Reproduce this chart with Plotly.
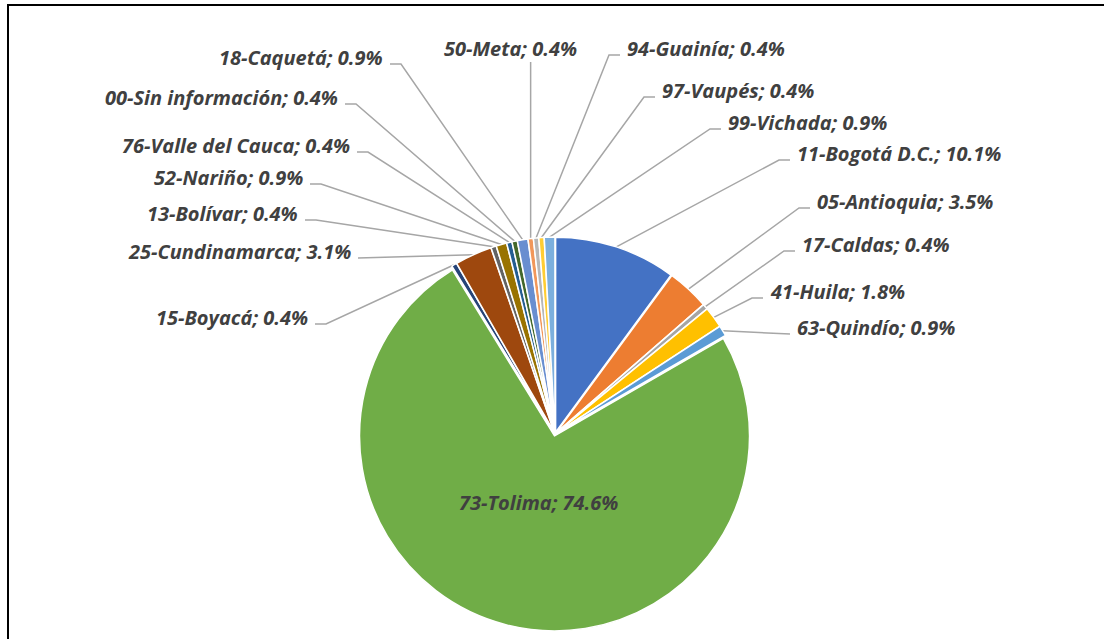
import math
import plotly.graph_objects as go

# ---------------- data ----------------
names = ["11-Bogotá D.C.", "05-Antioquia", "17-Caldas", "41-Huila", "63-Quindío",
         "73-Tolima", "15-Boyacá", "25-Cundinamarca", "13-Bolívar", "52-Nariño",
         "76-Valle del Cauca", "00-Sin información", "18-Caquetá", "50-Meta",
         "94-Guainía", "97-Vaupés", "99-Vichada"]
counts = [23, 8, 1, 4, 2, 170, 1, 7, 1, 2, 1, 1, 2, 1, 1, 1, 2]
colors = ["#4472C4", "#ED7D31", "#A5A5A5", "#FFC000", "#5B9BD5", "#70AD47",
          "#264478", "#9E480E", "#636363", "#997300", "#255E91", "#43682B",
          "#698ED0", "#F1975A", "#B7B7B7", "#FFCD33", "#7CAFDD"]

# ---------------- layout (pixels) ----------------
W, H = 1104, 639
CX, CY, R = 555, 434, 195          # pie centre and radius
PULL = 0.01
# label anchor x, centre y, side ('r' = text to right of anchor, 'l' = text to left, 'c' = centred, 'in' = inside)
label_x = [795, 815, 800, 768, 795, 538, 310, 353, 300, 305, 352, 340, 385, 510, 625, 660, 726]
label_y = [153, 201, 244, 291, 327, 502, 317, 251, 213, 177, 145, 97, 57, 48, 48, 90, 122]
label_side = ["r", "r", "r", "r", "r", "in", "l", "l", "l", "l", "l", "l", "l", "c", "r", "r", "r"]

total = sum(counts)
TEXT_COLOR = "#404040"
LINE_COLOR = "#A6A6A6"
FONT = "Open Sans"
FSIZE = 20

fig = go.Figure()

half = R * (1 + PULL)
fig.add_trace(go.Pie(
    labels=names, values=counts, sort=False, direction="clockwise", rotation=0,
    marker=dict(colors=colors, line=dict(color="white", width=1.5)),
    pull=[PULL] * len(counts), textinfo="none", hoverinfo="label+percent",
    showlegend=False,
    domain=dict(x=[(CX - half) / W, (CX + half) / W],
                y=[(H - CY - half) / H, (H - CY + half) / H]),
))

# leader lines (computed from data angles)
lx, ly = [], []
cum = 0
annotations = []
for i, (n, c) in enumerate(zip(names, counts)):
    mid = (cum + c / 2) / total * 2 * math.pi
    cum += c
    px = CX + (R + 2) * math.sin(mid)
    py = CY - (R + 2) * math.cos(mid)
    side = label_side[i]
    txt = f"<b><i>{n}; {100 * c / total:.1f}%</i></b>"
    font = dict(family=FONT, size=FSIZE, color=TEXT_COLOR)
    if side == "in":
        annotations.append(dict(x=label_x[i], y=label_y[i], xref="x", yref="y", text=txt,
                                showarrow=False, xanchor="center", yanchor="middle", font=font))
        continue
    if side == "r":
        ax, ay = label_x[i] - 5, label_y[i] + 7
        ex = ax - 11
        lx += [px, ex, ax, None]
        ly += [py, ay, ay, None]
        xa = "left"
    elif side == "l":
        ax, ay = label_x[i] + 5, label_y[i] + 7
        ex = ax + 11
        lx += [px, ex, ax, None]
        ly += [py, ay, ay, None]
        xa = "right"
    else:
        lx += [px, px, None]
        ly += [py, label_y[i] + 14, None]
        xa = "center"
    annotations.append(dict(x=label_x[i], y=label_y[i], xref="x", yref="y", text=txt,
                            showarrow=False, xanchor=xa, yanchor="middle", font=font))

fig.add_trace(go.Scatter(x=lx, y=ly, mode="lines", line=dict(color=LINE_COLOR, width=1.5),
                         hoverinfo="skip", showlegend=False, xaxis="x", yaxis="y"))

fig.update_layout(
    width=W, height=H, margin=dict(l=0, r=0, t=0, b=0),
    paper_bgcolor="white", plot_bgcolor="rgba(0,0,0,0)",
    xaxis=dict(range=[0, W], visible=False, fixedrange=True, domain=[0, 1]),
    yaxis=dict(range=[H, 0], visible=False, fixedrange=True, domain=[0, 1]),
    annotations=annotations,
    shapes=[dict(type="rect", xref="x", yref="y", x0=8, y0=5, x1=W + 20, y1=H + 20,
                 line=dict(color="black", width=2), fillcolor="rgba(0,0,0,0)", layer="above")],
)

fig.write_html("out.html", config={"displayModeBar": False},
               post_script="document.body.style.margin='0';")
